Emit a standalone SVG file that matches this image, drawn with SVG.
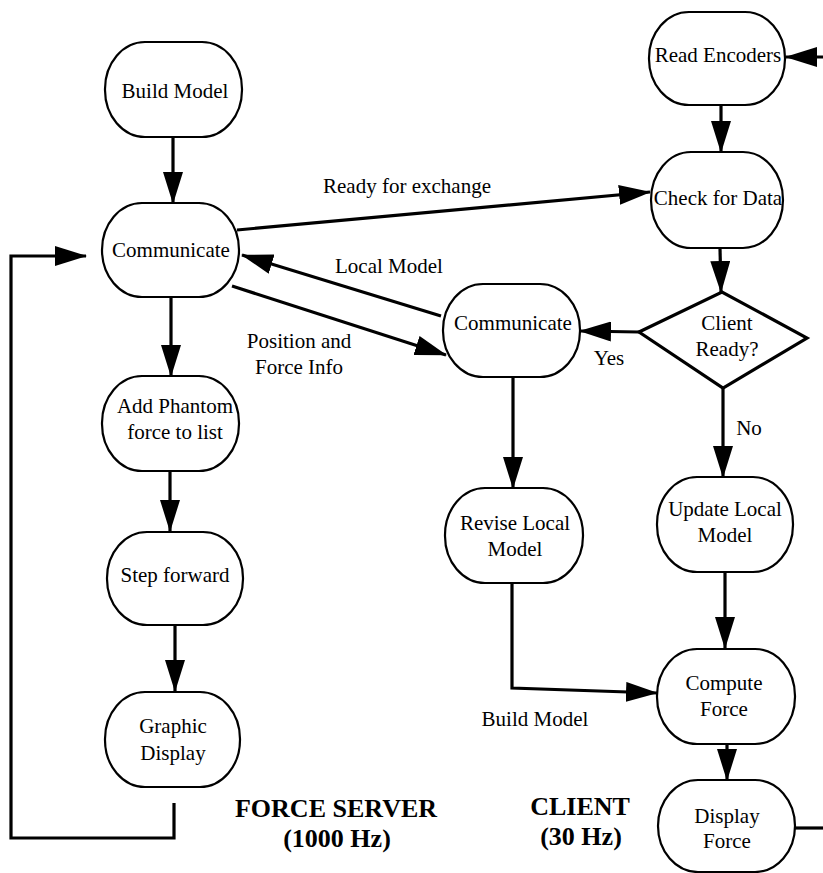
<svg xmlns="http://www.w3.org/2000/svg" width="823" height="873" viewBox="0 0 823 873">
<style>
.node rect{fill:#fff;stroke:#000;stroke-width:2.2}
.node polygon{fill:#fff;stroke:#000;stroke-width:3.2;stroke-linejoin:miter}
text{font-family:"Liberation Serif","Times New Roman",serif;font-size:21px;fill:#000;text-anchor:middle}
.title{font-weight:bold;font-size:26px}
.conn{fill:none;stroke:#000;stroke-width:3.2}
.arr{marker-end:url(#ah)}
</style>
<defs>
<marker id="ah" markerUnits="userSpaceOnUse" markerWidth="32" markerHeight="20" refX="31" refY="10" orient="auto">
<path d="M0,0 L32,10 L0,20 z" fill="#000"/>
</marker>
</defs>
<rect width="823" height="873" fill="#fff"/>
<g id="connectors">
<path class="conn arr" d="M173,137 L173,203"/>
<path class="conn arr" d="M171,297 L171,376"/>
<path class="conn arr" d="M170,471 L170,531"/>
<path class="conn arr" d="M175,625 L175,691"/>
<path class="conn arr" d="M174,803 L174,838 L11,838 L11,256 L86,256"/>
<path class="conn arr" d="M237,230 L650,192"/>
<path class="conn arr" d="M441,316 L242,255"/>
<path class="conn arr" d="M232,286 L446,355"/>
<path class="conn arr" d="M639,332 L580,331"/>
<path class="conn arr" d="M721,105 L721,152"/>
<path class="conn arr" d="M720,248 L721,292"/>
<path class="conn arr" d="M723,388 L723,477"/>
<path class="conn arr" d="M513,377 L513,488"/>
<path class="conn arr" d="M512,583 L512,688 L657,693"/>
<path class="conn arr" d="M725,572 L725,648"/>
<path class="conn arr" d="M727,744 L727,780"/>
<path class="conn" d="M793,828 L823,828"/>
<path class="conn arr" d="M823,57 L786,57"/>
</g>
<g id="build-model" class="node"><rect x="105" y="42" width="137" height="95" rx="40" ry="47"/><text x="175" y="98">Build Model</text></g>
<g id="communicate-server" class="node"><rect x="102" y="203" width="137" height="94" rx="40" ry="47"/><text x="171" y="257">Communicate</text></g>
<g id="add-phantom" class="node"><rect x="102" y="376" width="137" height="95" rx="40" ry="47"/><text x="175" y="413">Add Phantom</text><text x="175" y="439">force to list</text></g>
<g id="step-forward" class="node"><rect x="107" y="532" width="136" height="93" rx="40" ry="46"/><text x="175" y="582">Step forward</text></g>
<g id="graphic-display" class="node"><rect x="105" y="692" width="135" height="95" rx="40" ry="47"/><text x="173" y="733">Graphic</text><text x="173" y="760">Display</text></g>
<g id="read-encoders" class="node"><rect x="649" y="12" width="136" height="93" rx="40" ry="46"/><text x="718" y="62">Read Encoders</text></g>
<g id="check-for-data" class="node"><rect x="651" y="152" width="132" height="96" rx="40" ry="48"/><text x="718" y="205">Check for Data</text></g>
<g id="client-ready" class="node"><polygon points="639,332 722,292 807,338 723,388"/><text x="727" y="330">Client</text><text x="727" y="356">Ready?</text></g>
<g id="communicate-client" class="node"><rect x="443" y="284" width="137" height="93" rx="40" ry="46"/><text x="513" y="330">Communicate</text></g>
<g id="revise-local-model" class="node"><rect x="445" y="488" width="138" height="95" rx="40" ry="47"/><text x="515" y="530">Revise Local</text><text x="515" y="556">Model</text></g>
<g id="update-local-model" class="node"><rect x="657" y="477" width="136" height="95" rx="40" ry="47"/><text x="725" y="516">Update Local</text><text x="725" y="542">Model</text></g>
<g id="compute-force" class="node"><rect x="657" y="649" width="138" height="95" rx="40" ry="47"/><text x="724" y="690">Compute</text><text x="724" y="716">Force</text></g>
<g id="display-force" class="node"><rect x="658" y="780" width="137" height="92" rx="40" ry="46"/><text x="727" y="823">Display</text><text x="727" y="848">Force</text></g>
<g id="labels">
<text x="407" y="193">Ready for exchange</text>
<text x="389" y="273">Local Model</text>
<text x="299" y="348">Position and</text>
<text x="299" y="374">Force Info</text>
<text x="609" y="365">Yes</text>
<text x="749" y="435">No</text>
<text x="535" y="726">Build Model</text>
<text class="title" x="336" y="817">FORCE SERVER</text>
<text class="title" x="337" y="847">(1000 Hz)</text>
<text class="title" x="580" y="815">CLIENT</text>
<text class="title" x="581" y="845">(30 Hz)</text>
</g>
</svg>
